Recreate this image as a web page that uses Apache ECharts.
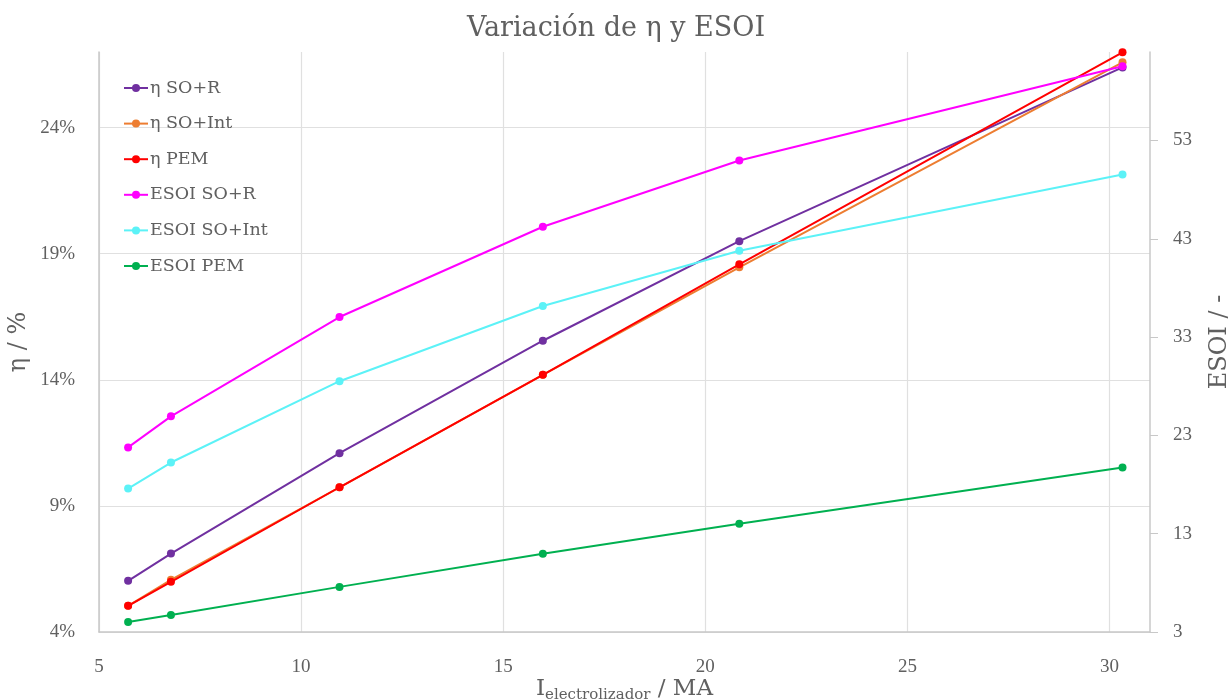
<!DOCTYPE html>
<html><head><meta charset="utf-8">
<script src="https://cdn.jsdelivr.net/npm/echarts@6/dist/echarts.min.js"></script>
<style>html,body{margin:0;padding:0;background:#fff;overflow:hidden}#c{width:1232px;height:700px}</style>
</head><body><div id="c"></div>
<script>
const current = [5.72, 6.78, 10.95, 15.98, 20.84, 30.32];
const etaSOR = [6.03, 7.11, 11.09, 15.55, 19.5, 26.39];
const etaSOInt = [5.04, 6.07, 9.74, 14.2, 18.46, 26.59];
const etaPEM = [5.04, 5.99, 9.74, 14.2, 18.58, 26.99];
const esoiSOR = [21.78, 24.94, 35.04, 44.22, 50.96, 60.55];
const esoiSOInt = [17.59, 20.24, 28.51, 36.16, 41.78, 49.53];
const esoiPEM = [4.02, 4.73, 7.59, 10.96, 14.02, 19.73];
const names = ['η SO+R','η SO+Int','η PEM','ESOI SO+R','ESOI SO+Int','ESOI PEM'];
const colors = ['#7030A0','#ED7D31','#FF0000','#FF00FF','#5CF2F7','#00B050'];

const TXT = 'DejaVu Serif';
const NUM = 'Liberation Serif';
const GRAY = '#606060';
const pair = (ys) => current.map((x,i)=>[x, ys[i]]);
const allData = [etaSOR, etaSOInt, etaPEM, esoiSOR, esoiSOInt, esoiPEM];
const series = allData.map((d,i)=>({
  name: names[i], type:'line', yAxisIndex: i<3?0:1,
  data: pair(d), symbol:'circle', symbolSize:8, showSymbol:true,
  lineStyle:{width:2, color:colors[i]}, itemStyle:{color:colors[i]}, z: 2+i
}));

const chart = echarts.init(document.getElementById('c'), null, {renderer:'canvas'});
chart.setOption({
  animation:false,
  textStyle:{fontFamily:TXT},
  color: colors,
  title:{text:'Variación de η y ESOI', left:'center', top:10,
    textStyle:{fontFamily:TXT, fontSize:27, fontWeight:'normal', color:GRAY}},
  legend:{orient:'vertical', left:118, top:73, itemGap:15.6, itemWidth:24, itemHeight:10,
    data: names,
    textStyle:{fontFamily:TXT, fontSize:17.5, lineHeight:20, color:GRAY, padding:[0,0,0,-3]}},
  grid:{left:99, right:82, top:52, bottom:68, containLabel:false, outerBoundsMode:'none'},
  xAxis:{type:'value', min:5, max:31, interval:5,
    name:'I{sub|electrolizador} / MA', nameLocation:'middle', nameGap:44, nameMoveOverlap:false,
    nameTextStyle:{fontFamily:TXT, fontSize:23, color:GRAY,
      rich:{sub:{fontFamily:TXT, fontSize:15, color:GRAY, padding:[12,0,0,0]}}},
    axisLine:{show:true, lineStyle:{color:'#c8c8c8', width:1.5}},
    axisTick:{show:false},
    axisLabel:{fontFamily:NUM, fontSize:19, color:GRAY, margin:26, showMaxLabel:false},
    splitLine:{show:true, showMaxLine:false, lineStyle:{color:'#e0e0e0', width:1.2}}},
  yAxis:[
    {type:'value', min:4, max:27, interval:5, position:'left',
     name:'η / %', nameLocation:'middle', nameGap:68, nameRotate:90, nameMoveOverlap:false,
     nameTextStyle:{fontFamily:TXT, fontSize:24, color:GRAY},
     axisLine:{show:true, lineStyle:{color:'#c8c8c8', width:1.5}},
     axisTick:{show:false},
     axisLabel:{fontFamily:NUM, fontSize:19, color:GRAY, margin:24, formatter:'{value}%', showMaxLabel:false},
     splitLine:{show:true, showMaxLine:false, lineStyle:{color:'#e0e0e0', width:1.2}}},
    {type:'value', min:3, max:62, interval:10, position:'right',
     name:'ESOI / -', nameLocation:'middle', nameGap:58, nameRotate:90, nameMoveOverlap:false,
     nameTextStyle:{fontFamily:TXT, fontSize:24, color:GRAY},
     axisLine:{show:true, lineStyle:{color:'#c8c8c8', width:1.5}},
     axisTick:{show:true, length:8, inside:false, lineStyle:{color:'#c8c8c8'}},
     axisLabel:{fontFamily:NUM, fontSize:19, color:GRAY, margin:23, showMaxLabel:false},
     splitLine:{show:false}}
  ],
  series: series
});
</script></body></html>
